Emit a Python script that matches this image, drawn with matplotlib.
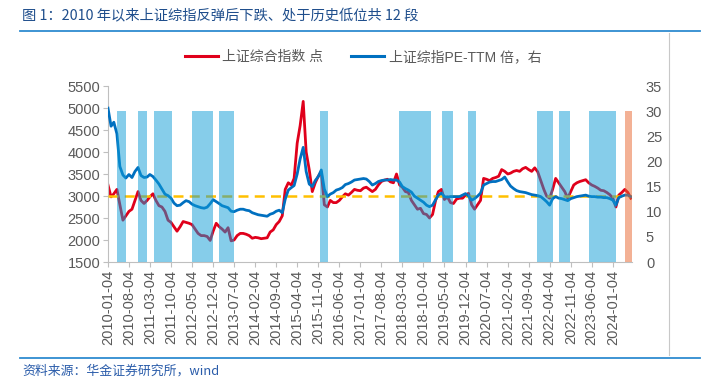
import pandas as pd
import numpy as np
import matplotlib
matplotlib.use("Agg")
import matplotlib.pyplot as plt
from matplotlib.lines import Line2D

plt.rcParams['font.family'] = ['Liberation Sans', 'Noto Sans CJK SC', 'DejaVu Sans']

# monthly readings, 2010-01 .. 2024-07
sse = [3250, 2980, 3050, 3150, 2800, 2450, 2550, 2650, 2700, 2900, 3100, 2900,
       2830, 2900, 2980, 3050, 2900, 2780, 2750, 2650, 2450, 2400, 2300, 2200,
       2300, 2420, 2400, 2380, 2350, 2250, 2150, 2100, 2100, 2080, 1990, 2200,
       2380, 2300, 2250, 2180, 2280, 1980, 2000, 2100, 2150, 2150, 2130, 2100,
       2040, 2060, 2050, 2030, 2040, 2050, 2180, 2230, 2350, 2420, 2550, 3150,
       3300, 3250, 3400, 4200, 4600, 5150, 4000, 3600, 3100, 3300, 3450, 3550,
       2800, 2750, 2900, 2850, 2850, 2900, 2980, 3050, 3020, 3080, 3150, 3130,
       3120, 3180, 3200, 3150, 3100, 3150, 3250, 3330, 3360, 3380, 3320, 3300,
       3500, 3250, 3200, 3100, 3080, 2900, 2800, 2700, 2720, 2600, 2580, 2500,
       2580, 2900, 3100, 3150, 2920, 2980, 2850, 2830, 2930, 2950, 2950, 3020,
       3060, 2800, 2700, 2800, 2900, 3400, 3380, 3350, 3400, 3420, 3450, 3600,
       3560, 3500, 3520, 3560, 3580, 3560, 3620, 3650, 3600, 3560, 3640, 3550,
       3350, 3150, 3000, 2950, 3150, 3400, 3300, 3200, 3100, 2950, 3100, 3250,
       3300, 3330, 3350, 3370, 3300, 3250, 3220, 3180, 3130, 3120, 3080, 3030,
       2950, 2750, 3020, 3080, 3150, 3080, 2950]

pe = [30.6, 27.0, 27.8, 25.5, 19.0, 17.3, 16.7, 17.4, 16.8, 18.0, 18.8, 17.2,
      16.8, 16.9, 17.4, 17.0, 16.3, 15.5, 14.5, 13.5, 13.2, 12.7, 11.7, 11.2,
      11.3, 11.8, 12.2, 12.0, 11.5, 11.2, 11.0, 10.8, 10.7, 10.9, 11.6, 12.4,
      12.0, 11.6, 11.2, 11.0, 10.8, 10.1, 10.0, 10.3, 10.5, 10.5, 10.3, 10.2,
      9.8, 9.6, 9.4, 9.3, 9.2, 9.1, 9.5, 9.7, 10.1, 10.3, 9.8, 12.5,
      14.3, 14.8, 15.2, 17.5, 20.5, 22.8, 18.0, 15.5, 15.0, 16.2, 17.0, 18.3,
      14.5, 13.0, 13.5, 13.8, 14.3, 14.5, 14.8, 15.4, 15.6, 15.9, 16.3, 16.4,
      16.5, 16.6, 16.5, 16.0, 15.3, 15.6, 16.0, 16.2, 16.3, 16.3, 16.4, 16.3,
      16.3, 15.9, 15.0, 14.6, 14.3, 13.9, 13.1, 12.7, 12.3, 11.9, 11.3, 11.0,
      11.3, 12.4, 13.3, 13.7, 13.0, 12.9, 13.0, 13.0, 13.0, 13.0, 13.3, 13.6,
      13.1, 12.3, 12.6, 13.1, 13.7, 15.3, 15.6, 15.9, 16.0, 16.0, 16.2, 16.4,
      16.9, 15.9, 15.1, 14.6, 14.2, 14.0, 13.9, 13.8, 13.6, 13.4, 13.3, 13.2,
      13.0, 12.5, 12.0, 11.3, 12.6, 13.0, 12.7, 12.6, 12.4, 12.2, 12.6, 12.8,
      13.0, 13.1, 13.2, 13.3, 13.1, 13.0, 13.0, 12.9, 12.9, 12.8, 12.8, 12.6,
      12.3, 11.3, 12.8, 13.1, 13.3, 13.3, 13.0]

dates = pd.date_range('2010-01-01', periods=len(sse), freq='MS') + pd.Timedelta(days=3)

low_starts = ['2010-04-07', '2010-11-07', '2011-04-13', '2012-04-30', '2013-02-04', '2015-11-19',
              '2018-01-28', '2019-04-13', '2019-12-25', '2021-11-28', '2022-07-04', '2023-05-10']
low_ends = ['2010-07-07', '2011-02-04', '2011-10-13', '2012-11-28', '2013-07-04', '2016-02-07',
            '2018-12-22', '2019-08-04', '2020-03-16', '2022-05-10', '2022-10-28', '2024-01-31']
now_start, now_end = '2024-05-04', '2024-07-16'
bar_top = 30
ref_level = 3000

tick_labels = ['2010-01-04', '2010-08-04', '2011-03-04', '2011-10-04', '2012-05-04', '2012-12-04',
               '2013-07-04', '2014-02-04', '2014-09-04', '2015-04-04', '2015-11-04', '2016-06-04',
               '2017-01-04', '2017-08-04', '2018-03-04', '2018-10-04', '2019-05-04', '2019-12-04',
               '2020-07-04', '2021-02-04', '2021-09-04', '2022-04-04', '2022-11-04', '2023-06-04',
               '2024-01-04']

RED = '#e0001b'
BLUE = '#0070c0'
GREY = '#595959'

fig = plt.figure(figsize=(7.04, 3.82), dpi=100)
ax1 = fig.add_axes([108 / 704, 1 - 262 / 382, 524 / 704, 176 / 382])
ax2 = ax1.twinx()

ax1.plot(dates, sse, color=RED, lw=2.0, zorder=2)
ax1.axhline(ref_level, color='#ffc000', lw=1.8, ls=(0, (4, 2.5)), zorder=3)
ax2.plot(dates, pe, color=BLUE, lw=2.0, zorder=2)

for s, e in zip(low_starts, low_ends):
    ax2.fill_between([pd.Timestamp(s), pd.Timestamp(e)], 0, bar_top,
                     color='#0f9dd7', alpha=0.5, lw=0, zorder=4)
ax2.fill_between([pd.Timestamp(now_start), pd.Timestamp(now_end)], 0, bar_top,
                 color='#e9652d', alpha=0.5, lw=0, zorder=4)

ax1.set_xlim(pd.Timestamp('2010-01-04'), pd.Timestamp('2024-07-16'))
ax1.set_ylim(1500, 5500)
ax1.set_yticks(range(1500, 5501, 500))
ax2.set_ylim(0, 35)
ax2.set_yticks(range(0, 36, 5))

ax1.set_xticks(pd.to_datetime(tick_labels))
ax1.set_xticklabels(tick_labels, rotation=90)

for a in (ax1, ax2):
    for sp in a.spines.values():
        sp.set_visible(False)
    a.tick_params(colors=GREY, labelsize=10.5, labelcolor=GREY)
ax1.spines['left'].set_visible(True)
ax1.spines['bottom'].set_visible(True)
ax1.spines['left'].set_color('#bfbfbf')
ax1.spines['bottom'].set_color('#bfbfbf')
ax1.tick_params(axis='both', color='#bfbfbf', length=3.5, width=0.8, pad=2)
ax2.tick_params(axis='y', length=0, pad=10)

handles = [Line2D([], [], color=RED, lw=2.2), Line2D([], [], color=BLUE, lw=2.2)]
fig.legend(handles, ['上证综合指数 点', '上证综指PE-TTM 倍，右'],
           loc='center', bbox_to_anchor=(363 / 704, 1 - 57 / 382), ncol=2, frameon=False,
           prop={'family': ['Liberation Sans', 'Noto Sans CJK SC'], 'size': 10},
           handlelength=2.4, handletextpad=0.3, columnspacing=2.0, labelcolor=GREY)

fig.text(22 / 704, 1 - 16 / 382, '图 1：2010 年以来上证综指反弹后下跌、处于历史低位共 12 段',
         family=['Noto Sans CJK SC'], fontsize=10.3, color='#1f4e8c', va='center')
fig.add_artist(Line2D([20 / 704, 700 / 704], [1 - 30.5 / 382] * 2, color='#2e8bd0', lw=1.3))
fig.add_artist(Line2D([20 / 704, 700 / 704], [1 - 357.5 / 382] * 2, color='#2e8bd0', lw=1.3))
fig.add_artist(Line2D([669 / 704] * 2, [1 - 33 / 382, 1 - 355 / 382], color='#c8c8c8', lw=0.8))
fig.text(22 / 704, 1 - 371 / 382, '资料来源：华金证券研究所，wind',
         family=['Noto Sans CJK SC'], fontsize=9.3, color='#2a5caa', va='center', style='italic')

fig.savefig('out.png', dpi=100)
